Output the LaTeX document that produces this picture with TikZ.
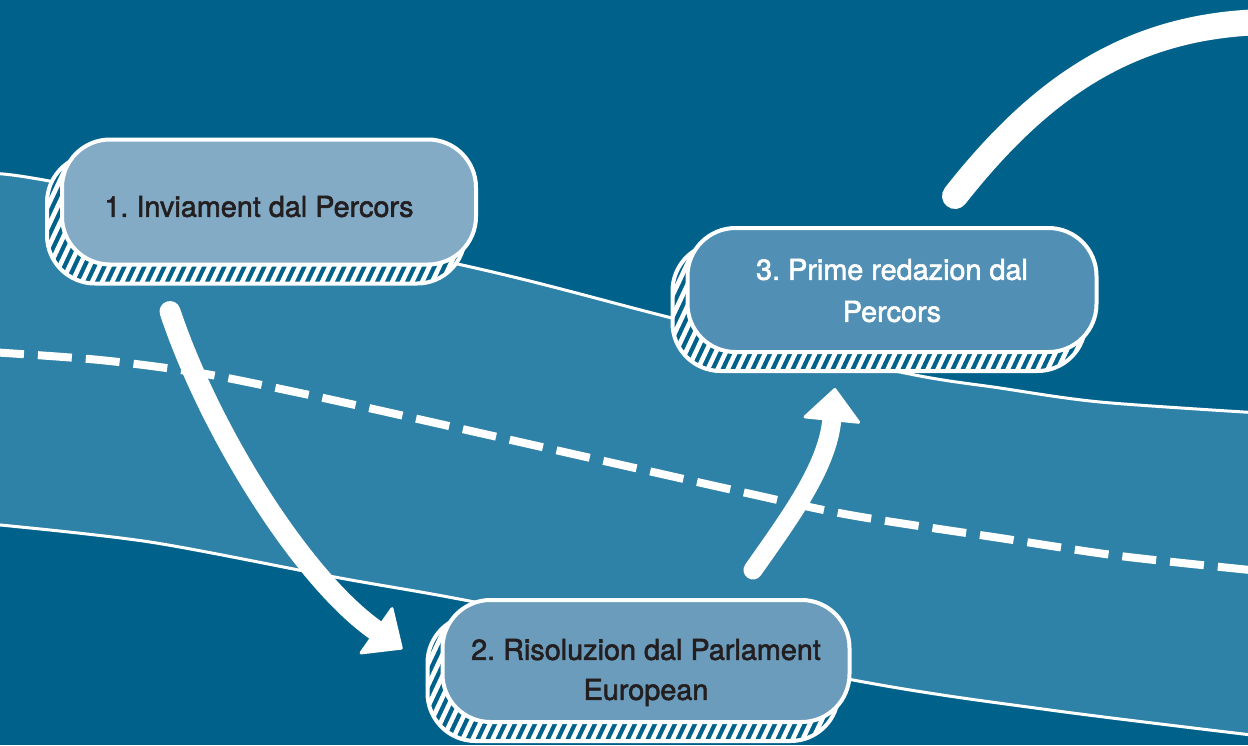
\documentclass[tikz,border=0pt]{standalone}
\usepackage{fontspec}
\setmainfont{TeX Gyre Heros}
\newfontfamily\cardfont{TeX Gyre Heros}[FakeBold=2]
\usepackage{tikz}
\usetikzlibrary{calc, positioning, arrows.meta}
\definecolor{deep}{HTML}{00628B}
\definecolor{lane}{HTML}{2E81A7}
\definecolor{ink}{HTML}{231F20}
\definecolor{faceA}{HTML}{84ABC6}
\definecolor{faceB}{HTML}{6B9CBC}
\definecolor{faceC}{HTML}{5190B4}
\pgfdeclarelayer{under}
\pgfsetlayers{under,main}
\frenchspacing
\tikzset{
    card/.style={rectangle, rounded corners=24pt, draw=white, line width=2pt, align=center, text=ink, inner sep=0pt, font=\cardfont\fontsize{14.4}{20}\selectfont},
    rimline/.style={draw=white, line width=2pt, rounded corners=24pt},
    hatch/.style={white, line width=2.3pt},
    laneedge/.style={white, line width=1.5pt},
    divider/.style={white, line width=4pt, dash pattern=on 17pt off 7pt},
    flow/.style={white, line width=10.5pt, line cap=round, -{Triangle[length=17pt, width=30pt, line width=1.5pt, round]}},
    sweep/.style={white, line width=13pt, line cap=round}
}

\begin{document}
\begin{tikzpicture}[x=0.5pt, y=-0.5pt]
    \useasboundingbox (0,0) rectangle (1248,745);

    % Steps
    \node[card, fill=faceA, minimum width=207pt, minimum height=62.5pt] (step1) at (269,202) {\rule{0pt}{15pt}\hspace*{-10pt}1. Inviament dal Percors};
    \node[card, fill=faceB, minimum width=203.5pt, minimum height=61pt] (step2) at (646,661) {\rule{0pt}{22pt}2. Risoluzion dal Parlament\\European};
    \node[card, fill=faceC, text=white, minimum width=204.5pt, minimum height=62pt] (step3) at (892,290) {\rule{0pt}{11pt}3. Prime redazion dal\\[1pt]Percors};

    % Background, lane and rims
    \begin{pgfonlayer}{under}
        \fill[deep] (0,0) rectangle (1248,745);
        \fill[lane] plot[smooth] coordinates {(-10,174) (60,183) (462,265) (680,320) (900,372) (1000,388) (1100,402) (1260,413)}
            -- plot[smooth] coordinates {(1260,736) (1050,710) (853,680) (490,605) (340,578) (150,542) (-10,524)} -- cycle;
        \draw[laneedge] plot[smooth] coordinates {(-10,174) (60,183) (462,265) (680,320) (900,372) (1000,388) (1100,402) (1260,413)};
        \draw[laneedge] plot[smooth] coordinates {(-10,524) (150,542) (340,578) (490,605) (853,680) (1050,710) (1260,736)};
        \draw[divider] plot[smooth] coordinates {(-10,352) (100,360) (200,373) (300,393) (400,415) (733,490) (850,515) (1000,538) (1120,556) (1260,571)};

        \foreach \n in {step1,step2,step3} {
            \begin{scope}
                \path[clip, rounded corners=24pt] ([shift={(-13,17)}]\n.south west) rectangle ([shift={(-13,17)}]\n.north east);
                \fill[deep] ([shift={(-13,17)}]\n.south west) rectangle ([shift={(-13,17)}]\n.north east);
                \foreach \k in {0,...,50}
                    \draw[hatch] ([shift={(\k*10-90,20)}]\n.south west) -- ++(80,-170);
            \end{scope}
            \draw[rimline] ([shift={(-13,17)}]\n.south west) rectangle ([shift={(-13,17)}]\n.north east);
        }
    \end{pgfonlayer}

    % Arrows
    \coordinate (offpage) at (1265,22);
    \draw[flow] ([shift={(110,45)}]step1.south west) .. controls +(40,120) and +(-100,-70) .. ([shift={(-38,-12)}]step2.west);
    \draw[flow, line width=9.5pt] ([shift={(107,-28)}]step2.north) .. controls +(35,-50) and +(-8,80) .. ([shift={(-57,34)}]step3.south);
    \draw[sweep] ([shift={(63,-30)}]step3.north) .. controls +(85,-108) and +(-135,3) .. (offpage);
\end{tikzpicture}
\end{document}
